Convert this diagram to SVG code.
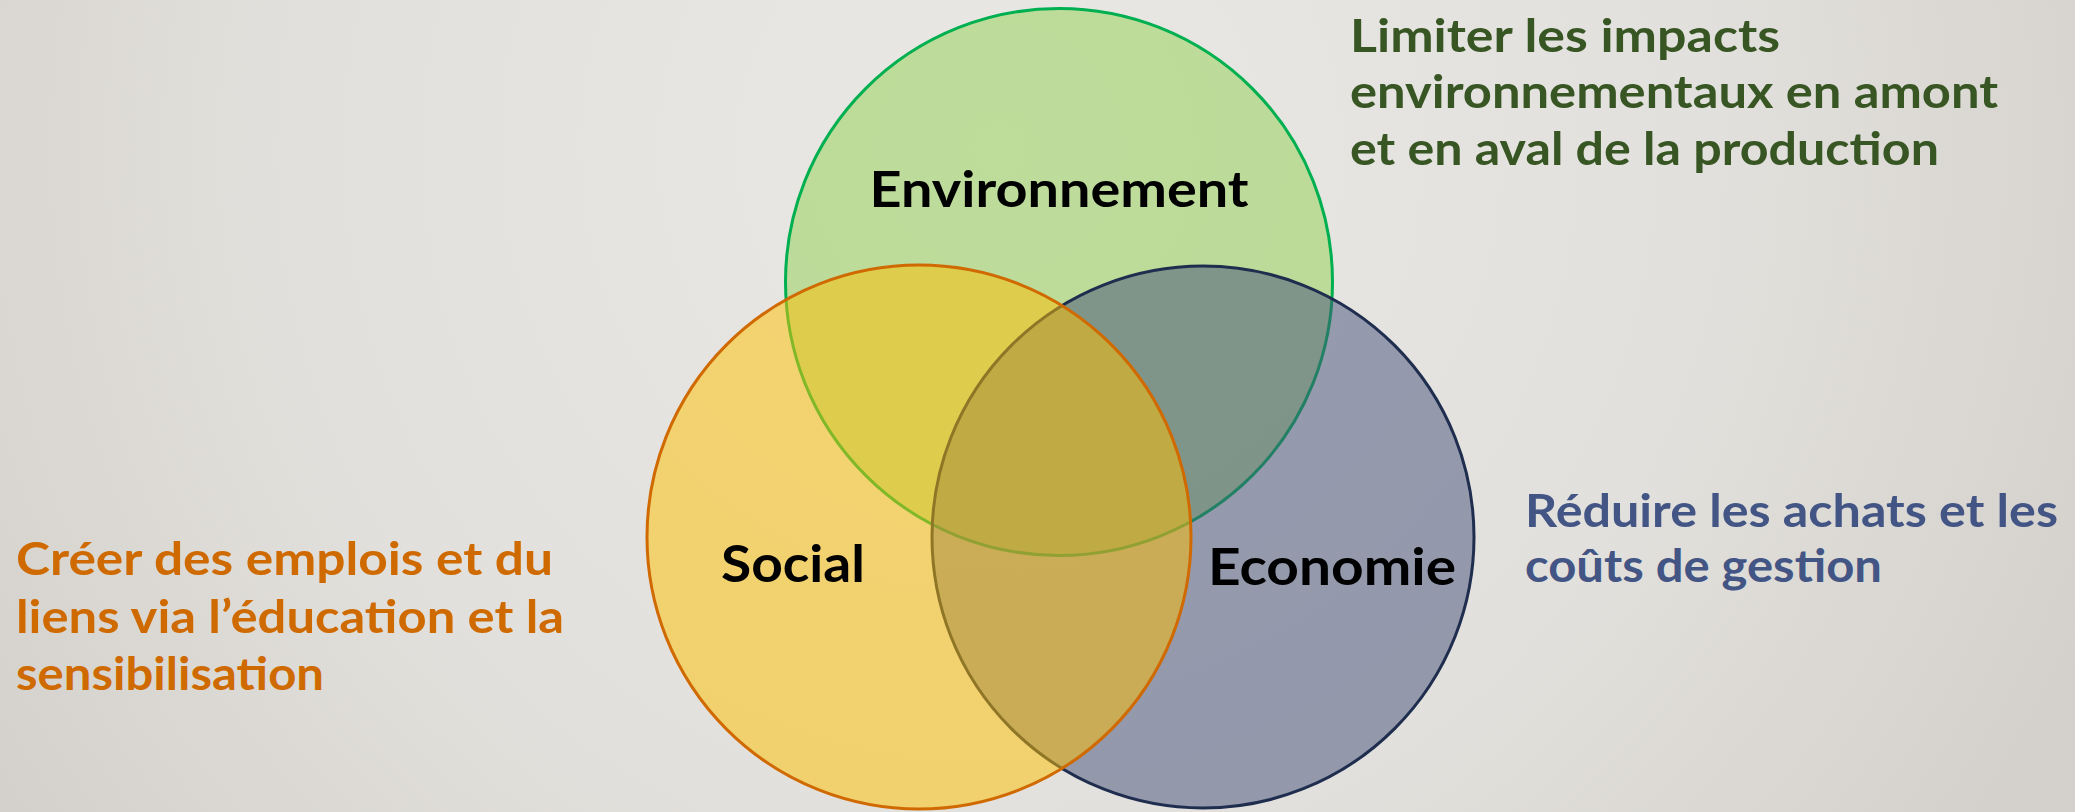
<svg xmlns="http://www.w3.org/2000/svg" width="2075" height="812" viewBox="0 0 2075 812">
  <defs>
    <radialGradient id="bg" cx="1000" cy="150" r="1200" gradientUnits="userSpaceOnUse">
      <stop offset="0" stop-color="#EAE8E5"/>
      <stop offset="0.6" stop-color="#E2E0DC"/>
      <stop offset="1" stop-color="#D4D1CC"/>
    </radialGradient>
  </defs>
  <style>
    .circ { stroke-width: 3; fill-opacity: 0.5; }
    .lbl { font-family: Lato, "Liberation Sans", sans-serif; font-weight: bold; fill: #000000; }
    .desc { font-family: Lato, "Liberation Sans", sans-serif; font-weight: bold; font-size: 46px; }
    .green { fill: #375623; }
    .orange { fill: #CF6A00; }
    .blue { fill: #425584; }
  </style>
  <rect x="0" y="0" width="2075" height="812" fill="url(#bg)"/>

  <g id="connectors"></g>

  <g id="environnement">
    <circle class="circ" cx="1059" cy="282" r="273.5" fill="#92D050" stroke="#00B050"/>
    <text class="lbl" x="1059" y="207" font-size="50" text-anchor="middle" textLength="379" lengthAdjust="spacingAndGlyphs">Environnement</text>
  </g>
  <g id="economie">
    <circle class="circ" cx="1203" cy="537" r="271" fill="#44507A" stroke="#1F2D4E"/>
  </g>
  <g id="social">
    <circle class="circ" cx="919" cy="537" r="272" fill="#FFC000" stroke="#D06A00"/>
  </g>
  <g id="labels-inner">
    <text class="lbl" x="721" y="582" font-size="52" textLength="144" lengthAdjust="spacingAndGlyphs">Social</text>
    <text class="lbl" x="1208" y="585" font-size="51" textLength="248" lengthAdjust="spacingAndGlyphs">Economie</text>
  </g>

  <g id="desc-environnement" class="desc green">
    <text x="1350" y="52" textLength="430" lengthAdjust="spacingAndGlyphs">Limiter les impacts</text>
    <text x="1350" y="108" textLength="648" lengthAdjust="spacingAndGlyphs">environnementaux en amont</text>
    <text x="1350" y="165" textLength="589" lengthAdjust="spacingAndGlyphs">et en aval de la production</text>
  </g>
  <g id="desc-social" class="desc orange">
    <text x="16" y="575" textLength="537" lengthAdjust="spacingAndGlyphs">Créer des emplois et du</text>
    <text x="16" y="633" textLength="548" lengthAdjust="spacingAndGlyphs">liens via l’éducation et la</text>
    <text x="16" y="690" textLength="308" lengthAdjust="spacingAndGlyphs">sensibilisation</text>
  </g>
  <g id="desc-economie" class="desc blue">
    <text x="1525" y="527" textLength="533" lengthAdjust="spacingAndGlyphs">Réduire les achats et les</text>
    <text x="1525" y="582" textLength="357" lengthAdjust="spacingAndGlyphs">coûts de gestion</text>
  </g>
</svg>
